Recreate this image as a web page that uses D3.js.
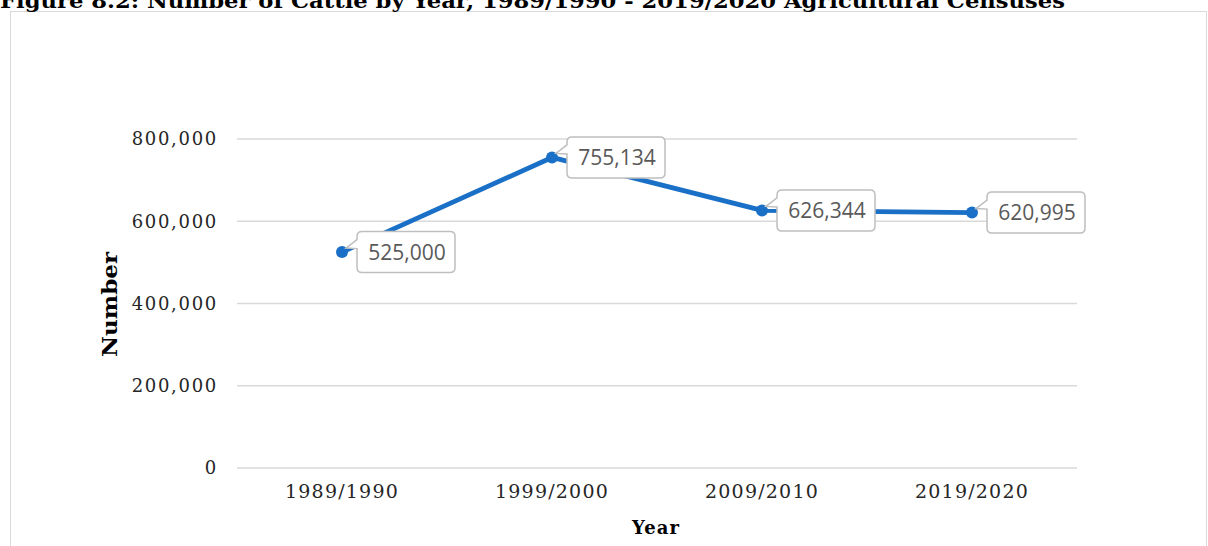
<!DOCTYPE html>
<html>
<head>
<meta charset="utf-8">
<script src="https://cdn.jsdelivr.net/npm/d3@7"></script>
<style>
  html, body { margin: 0; padding: 0; background: #fff; }
  svg { display: block; }
</style>
</head>
<body>
<svg id="chart" width="1208" height="546"></svg>
<script>
// Cattle counts by agricultural census
const censuses = ["1989/1990", "1999/2000", "2009/2010", "2019/2020"];
const cattle = [525000, 755134, 626344, 620995];
const yTicks = [0, 200000, 400000, 600000, 800000];

const svg = d3.select("#chart");
const W = 1208, H = 546;
const plot = { left: 237, right: 1077, top: 139, bottom: 468 };
const serif = "'DejaVu Serif', 'Liberation Serif', serif";
const sans = "'Open Sans', 'Noto Sans', 'Liberation Sans', sans-serif";

// Chart frame
svg.append("rect")
  .attr("x", 10.5).attr("y", 11.5)
  .attr("width", 1196).attr("height", H)
  .attr("fill", "#fff").attr("stroke", "#d9d9d9").attr("stroke-width", 1);

// Title
svg.append("text")
  .attr("x", 0).attr("y", 8)
  .attr("font-family", serif).attr("font-weight", "bold")
  .attr("font-size", 20).attr("fill", "#000")
  .attr("textLength", 1065).attr("lengthAdjust", "spacingAndGlyphs")
  .text("Figure 8.2: Number of Cattle by Year, 1989/1990 - 2019/2020 Agricultural Censuses");

const x = d3.scaleBand().domain(censuses).range([plot.left, plot.right]);
const y = d3.scaleLinear().domain([0, 800000]).range([plot.bottom, plot.top]);

// Horizontal gridlines
svg.append("g")
  .selectAll("line").data(yTicks).join("line")
  .attr("x1", plot.left).attr("x2", plot.right)
  .attr("y1", d => y(d)).attr("y2", d => y(d))
  .attr("stroke", "#d9d9d9").attr("stroke-width", 1.5);

// Y axis labels
const yAxis = svg.append("g")
  .attr("transform", `translate(${plot.left - 19},0)`)
  .call(d3.axisLeft(y).tickValues(yTicks).tickFormat(d3.format(",")).tickSize(0).tickPadding(0));
yAxis.select(".domain").remove();
yAxis.selectAll("text")
  .attr("font-family", serif).attr("font-size", 18).attr("letter-spacing", 1.7)
  .attr("fill", "#262626");

// X axis labels
const xAxis = svg.append("g")
  .attr("transform", `translate(0,${plot.bottom})`)
  .call(d3.axisBottom(x).tickSize(0).tickPadding(17));
xAxis.select(".domain").remove();
xAxis.selectAll("text")
  .attr("font-family", serif).attr("font-size", 19).attr("letter-spacing", 1.2)
  .attr("fill", "#262626");

// Axis titles
svg.append("text")
  .attr("x", (plot.left + plot.right) / 2 - 1).attr("y", 534)
  .attr("text-anchor", "middle")
  .attr("font-family", serif).attr("font-weight", "bold").attr("font-size", 18)
  .attr("letter-spacing", 1).attr("fill", "#000")
  .text("Year");
svg.append("text")
  .attr("transform", `translate(117,${(plot.top + plot.bottom) / 2 + 1}) rotate(-90)`)
  .attr("text-anchor", "middle")
  .attr("font-family", serif).attr("font-weight", "bold").attr("font-size", 21)
  .attr("textLength", 105).attr("lengthAdjust", "spacingAndGlyphs").attr("fill", "#000")
  .text("Number");

const pts = censuses.map((c, i) => ({ c, v: cattle[i], px: x(c) + x.bandwidth() / 2, py: y(cattle[i]) }));

// Series line
const blue = "#1a70c6";
svg.append("path")
  .datum(pts)
  .attr("d", d3.line().x(d => d.px).y(d => d.py))
  .attr("fill", "none").attr("stroke", blue).attr("stroke-width", 4.8)
  .attr("stroke-linejoin", "round");

// Markers
svg.append("g")
  .selectAll("circle").data(pts).join("circle")
  .attr("cx", d => d.px).attr("cy", d => d.py).attr("r", 6)
  .attr("fill", blue);

// Callout labels: rounded box to the right with a tail pointing at the marker
const bw = 98, bh = 41, r = 5, gap = 15;
function callout(d) {
  const x0 = d.px + gap, y0 = d.py - bh / 2, x1 = x0 + bw, y1 = y0 + bh;
  const tx = d.px + 4, ty = d.py - 4;
  const t1 = y0 + 8, t2 = y0 + 17;
  return `M${x0 + r},${y0} H${x1 - r} Q${x1},${y0} ${x1},${y0 + r} V${y1 - r} Q${x1},${y1} ${x1 - r},${y1}` +
    ` H${x0 + r} Q${x0},${y1} ${x0},${y1 - r} V${t2} L${tx},${ty} L${x0},${t1} V${y0 + r} Q${x0},${y0} ${x0 + r},${y0} Z`;
}
const labels = svg.append("g").selectAll("g").data(pts).join("g");
labels.append("path")
  .attr("d", callout)
  .attr("fill", "#fff").attr("stroke", "#bfbfbf").attr("stroke-width", 1.5);
labels.append("text")
  .attr("x", d => d.px + gap + bw / 2 + 1).attr("y", d => d.py + 7.5)
  .attr("text-anchor", "middle")
  .attr("font-family", sans).attr("font-size", 21).attr("fill", "#595959")
  .text(d => d3.format(",")(d.v));
</script>
</body>
</html>
